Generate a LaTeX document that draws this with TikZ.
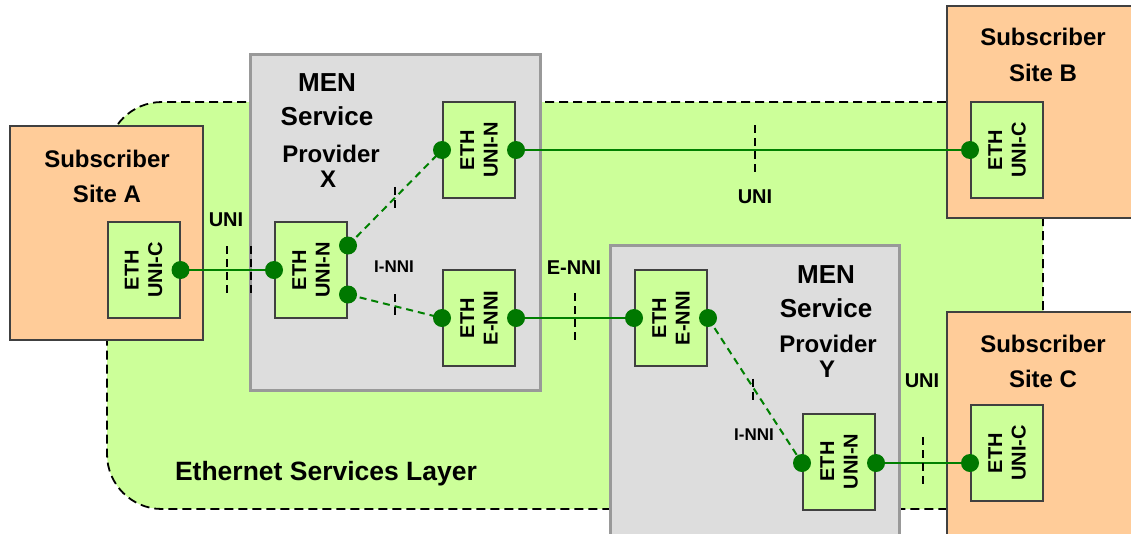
\documentclass[tikz,border=0pt]{standalone}
\usepackage{fontspec}
\setmainfont{Liberation Sans}
\usetikzlibrary{calc}
\definecolor{layergreen}{HTML}{CCFF99}
\definecolor{sitefill}{HTML}{FFCC99}
\definecolor{provfill}{HTML}{DDDDDD}
\definecolor{provedge}{HTML}{999999}
\definecolor{boxedge}{HTML}{404040}
\definecolor{linkgreen}{HTML}{008000}
\definecolor{dotgreen}{HTML}{007800}
\begin{document}
\begin{tikzpicture}[x=1pt,y=-1pt,
  layerbox/.style={draw=black, line width=1.8pt, dash pattern=on 9pt off 5pt, fill=layergreen, rounded corners=55pt, inner sep=0pt},
  sitebox/.style={draw=boxedge, line width=2pt, fill=sitefill, inner sep=0pt},
  provbox/.style={draw=provedge, line width=3pt, fill=provfill, inner sep=0pt},
  ethbox/.style={draw=boxedge, line width=2pt, fill=layergreen, minimum width=72pt, minimum height=96pt, inner sep=0pt},
  ethtext/.style={rotate=90, align=center, font=\bfseries\fontsize{20}{23.5}\selectfont},
  bigtxt/.style={anchor=base, font=\bfseries\fontsize{24}{30}\selectfont},
  mentxt/.style={anchor=base, font=\bfseries\fontsize{26}{30}\selectfont},
  midtxt/.style={anchor=base, font=\bfseries\fontsize{24}{28}\selectfont},
  lbltxt/.style={anchor=base, font=\bfseries\fontsize{20}{24}\selectfont},
  smalltxt/.style={anchor=base, font=\bfseries\fontsize{17}{20}\selectfont},
  layertxt/.style={anchor=base, font=\bfseries\fontsize{26.5}{30}\selectfont},
  solidlink/.style={draw=linkgreen, line width=2pt},
  dashlink/.style={draw=linkgreen, line width=2pt, dash pattern=on 7pt off 5pt},
  ticksep/.style={draw=black, line width=2pt, dash pattern=on 8pt off 5pt},
  portdot/.style={circle, fill=dotgreen, minimum size=18pt, inner sep=0pt}
]
\clip (0,0) rectangle (1131,533);
\fill[white] (0,0) rectangle (1131,533);

% Ethernet services layer
\node[layerbox, minimum width=936pt, minimum height=407pt] (layer) at (575,305.5) {};
\node[layertxt] (layerlbl) at (326,480) {Ethernet Services Layer};

% Subscriber sites
\node[sitebox, minimum width=193pt, minimum height=214pt] (siteA) at (106.5,233) {};
\node[sitebox, minimum width=200pt, minimum height=212pt] (siteB) at (1047,112) {};
\node[sitebox, minimum width=200pt, minimum height=240pt] (siteC) at (1047,432) {};
\node[bigtxt] (siteAt1) at (107,167) {Subscriber};
\node[bigtxt] (siteAt2) at (107,202) {Site A};
\node[bigtxt] (siteBt1) at (1043,45) {Subscriber};
\node[bigtxt] (siteBt2) at (1043,81) {Site B};
\node[bigtxt] (siteCt1) at (1043,352) {Subscriber};
\node[bigtxt] (siteCt2) at (1043,387) {Site C};

% Providers
\node[provbox, minimum width=290pt, minimum height=336pt] (provX) at (395,222) {};
\node[provbox, minimum width=289pt, minimum height=310pt] (provY) at (754.5,400) {};
\node[mentxt] (pXt1) at (327,91) {MEN};
\node[mentxt] (pXt2) at (327,125) {Service};
\node[midtxt] (pXt3) at (331,162) {Provider};
\node[midtxt] (pXt4) at (328,187) {X};
\node[mentxt] (pYt1) at (826,283) {MEN};
\node[mentxt] (pYt2) at (826,317) {Service};
\node[midtxt] (pYt3) at (828,352) {Provider};
\node[midtxt] (pYt4) at (827,377) {Y};

% ETH boxes
\node[ethbox] (ethA) at (143.5,270) {};
\node[ethtext] at (ethA) {ETH\\UNI-C};
\node[ethbox] (ethB) at (1007,150) {};
\node[ethtext] at (ethB) {ETH\\UNI-C};
\node[ethbox] (ethC) at (1007,453) {};
\node[ethtext] at (ethC) {ETH\\UNI-C};
\node[ethbox] (ethXa) at (311,270) {};
\node[ethtext] at (ethXa) {ETH\\UNI-N};
\node[ethbox] (ethXb) at (479,150) {};
\node[ethtext] at (ethXb) {ETH\\UNI-N};
\node[ethbox] (ethXc) at (479,318) {};
\node[ethtext] at (ethXc) {ETH\\E-NNI};
\node[ethbox] (ethYa) at (671,318) {};
\node[ethtext] at (ethYa) {ETH\\E-NNI};
\node[ethbox] (ethYb) at (839,461.5) {};
\node[ethtext] at (ethYb) {ETH\\UNI-N};

% port positions
\coordinate (pA) at (ethA.east);
\coordinate (pB) at (ethB.west);
\coordinate (pC) at ($(ethC.west)+(0,10)$);
\coordinate (pXa1) at (ethXa.west);
\coordinate (pXa2) at ($(ethXa.east)!0.5!(ethXa.north east)$);
\coordinate (pXa3) at ($(ethXa.east)!0.5!(ethXa.south east)$);
\coordinate (pXb1) at (ethXb.west);
\coordinate (pXb2) at (ethXb.east);
\coordinate (pXc1) at (ethXc.west);
\coordinate (pXc2) at (ethXc.east);
\coordinate (pYa1) at (ethYa.west);
\coordinate (pYa2) at (ethYa.east);
\coordinate (pYb1) at ($(ethYb.west)+(0,1.5)$);
\coordinate (pYb2) at ($(ethYb.east)+(0,1.5)$);

% links
\draw[solidlink] (pA) -- (pXa1);
\draw[dashlink] (pXa2) -- (pXb1);
\draw[dashlink] (pXa3) -- (pXc1);
\draw[solidlink] (pXb2) -- (pB);
\draw[solidlink] (pXc2) -- (pYa1);
\draw[dashlink] (pYa2) -- (pYb1);
\draw[solidlink] (pYb2) -- (pC);

% reference point ticks
\draw[ticksep] (227,246) -- (227,294);
\draw[ticksep] (251,246) -- (251,294);
\draw[ticksep] ($(pXa2)!0.5!(pXb1)+(0,-11)$) -- ($(pXa2)!0.5!(pXb1)+(0,11)$);
\draw[ticksep] ($(pXa3)!0.5!(pXc1)+(0,-12)$) -- ($(pXa3)!0.5!(pXc1)+(0,12)$);
\draw[ticksep] (755,125) -- (755,175);
\draw[ticksep] ($(pXc2)!0.5!(pYa1)+(0,-25)$) -- ($(pXc2)!0.5!(pYa1)+(0,25)$);
\draw[ticksep] ($(pYa2)!0.5!(pYb1)+(-2,-12)$) -- ($(pYa2)!0.5!(pYb1)+(-2,10)$);
\draw[ticksep] ($(pYb2)!0.5!(pC)+(0,-26)$) -- ($(pYb2)!0.5!(pC)+(0,22)$);

% port dots
\foreach \p in {pA,pB,pC,pXa1,pXa2,pXa3,pXb1,pXb2,pXc1,pXc2,pYa1,pYa2,pYb1,pYb2}
  \node[portdot] (dot\p) at (\p) {};

% interface labels
\node[lbltxt] (uniA) at (226,226) {UNI};
\node[smalltxt] (innX) at (394,272) {I-NNI};
\node[lbltxt] (uniB) at (755,203) {UNI};
\node[lbltxt] (ennI) at (574,274) {E-NNI};
\node[smalltxt] (innY) at (754,440) {I-NNI};
\node[lbltxt] (uniC) at (922,387) {UNI};
\end{tikzpicture}
\end{document}
